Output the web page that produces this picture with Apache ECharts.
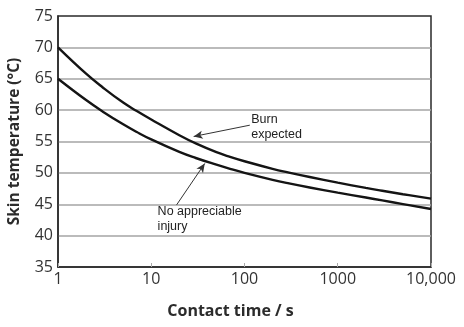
<!DOCTYPE html>
<html>
<head>
<meta charset="utf-8">
<script src="https://cdn.jsdelivr.net/npm/echarts@6/dist/echarts.min.js"></script>
<style>
  html, body { margin: 0; padding: 0; background: #fff; }
  #chart { width: 464px; height: 327px; }
</style>
</head>
<body>
<div id="chart"></div>
<script>
// Contact times (s) sampled along the logarithmic axis
const contactTimes = [1, 2, 3, 5, 7, 10, 20, 30, 50, 70, 100, 200, 300, 500, 1000, 2000, 3000, 5000, 10000];
// Skin temperature (°C) above which a burn is expected
const burnExpected = [70, 65.8, 63.65, 61.2, 59.85, 58.5, 56.0, 54.7, 53.3, 52.55, 51.85, 50.65, 50.05, 49.35, 48.45, 47.6, 47.15, 46.6, 45.9];
// Skin temperature (°C) below which there is no appreciable injury
const noInjury = [65, 61.6, 59.8, 57.74, 56.51, 55.33, 53.34, 52.37, 51.3, 50.64, 50.0, 48.89, 48.32, 47.67, 46.85, 46.07, 45.61, 45.03, 44.25];

// Axis ticks
const timeTickLabels = { 1: '1', 10: '10', 100: '100', 1000: '1000', 10000: '10,000' };
const tempMin = 35, tempMax = 75, tempStep = 5;

// Annotation arrows: [from, to] in data coordinates (time, temperature)
const burnArrow = [[114, 57.6], [28.5, 55.8]];
const injuryArrow = [[18.7, 44.9], [37.5, 51.5]];
// Annotation text anchors (time, temperature)
const burnTextAt = [118, 59.7];
const injuryTextAt = [11.7, 45.1];

const pair = (xs, ys) => xs.map((x, i) => [x, ys[i]]);

const chart = echarts.init(document.getElementById('chart'), null, { renderer: 'canvas' });

const curveStyle = { color: '#141414', width: 2.4 };
const arrowLine = (seg) => ({
  silent: true,
  symbol: ['none', 'arrow'],
  symbolSize: [6, 9],
  label: { show: false },
  lineStyle: { color: '#333', width: 1, type: 'solid' },
  data: [[{ coord: seg[0] }, { coord: seg[1] }]]
});

chart.setOption({
  animation: false,
  backgroundColor: '#fff',
  grid: {
    left: 58, right: 33, top: 16, bottom: 60,
    outerBoundsMode: 'none', containLabel: false,
    show: true, borderColor: '#2a2a2a', borderWidth: 1.5, backgroundColor: 'transparent'
  },
  xAxis: {
    type: 'log', logBase: 10, min: 1, max: 10000,
    name: 'Contact time / s',
    nameLocation: 'middle', nameGap: 36,
    nameTextStyle: { fontFamily: 'Open Sans', fontWeight: 'bold', fontSize: 16, color: '#2b2b2b', padding: [0, 28, 0, 0] },
    axisLine: { show: true, lineStyle: { color: '#2a2a2a', width: 1.5 } },
    axisTick: { show: true, inside: true, length: 4, lineStyle: { color: '#aaa', width: 1 } },
    minorTick: { show: false },
    splitLine: { show: false },
    axisLabel: {
      fontFamily: 'Open Sans', fontSize: 16, color: '#333', margin: 4,
      formatter: (v) => timeTickLabels[Math.round(v)] ?? ''
    }
  },
  yAxis: {
    type: 'value', min: tempMin, max: tempMax, interval: tempStep,
    name: 'Skin temperature (°C)',
    nameLocation: 'middle', nameGap: 35, nameRotate: 90,
    nameTextStyle: { fontFamily: 'Open Sans', fontWeight: 'bold', fontSize: 15.5, color: '#2b2b2b' },
    axisLine: { show: true, lineStyle: { color: '#2a2a2a', width: 1.5 } },
    axisTick: { show: false },
    splitLine: { show: true, showMinLine: false, showMaxLine: false, lineStyle: { color: '#a4a4a4', width: 1.5 } },
    axisLabel: { fontFamily: 'Open Sans', fontSize: 16, color: '#333', margin: 5 }
  },
  series: [
    {
      name: 'Burn expected', type: 'line', smooth: 0.45, showSymbol: false,
      lineStyle: curveStyle, data: pair(contactTimes, burnExpected),
      markLine: arrowLine(burnArrow), z: 3
    },
    {
      name: 'No appreciable injury', type: 'line', smooth: 0.45, showSymbol: false,
      lineStyle: curveStyle, data: pair(contactTimes, noInjury),
      markLine: arrowLine(injuryArrow), z: 3
    }
  ]
});

// Place annotation text from data coordinates
const textStyle = { fontFamily: 'Liberation Sans', fontSize: 12.5, fill: '#222', lineHeight: 15 };
const p1 = chart.convertToPixel({ gridIndex: 0 }, burnTextAt);
const p2 = chart.convertToPixel({ gridIndex: 0 }, injuryTextAt);
chart.setOption({
  graphic: [
    { type: 'text', x: p1[0], y: p1[1], style: Object.assign({ text: 'Burn\nexpected' }, textStyle), z: 10 },
    { type: 'text', x: p2[0], y: p2[1], style: Object.assign({ text: 'No appreciable\ninjury' }, textStyle), z: 10 }
  ]
});
</script>
</body>
</html>
